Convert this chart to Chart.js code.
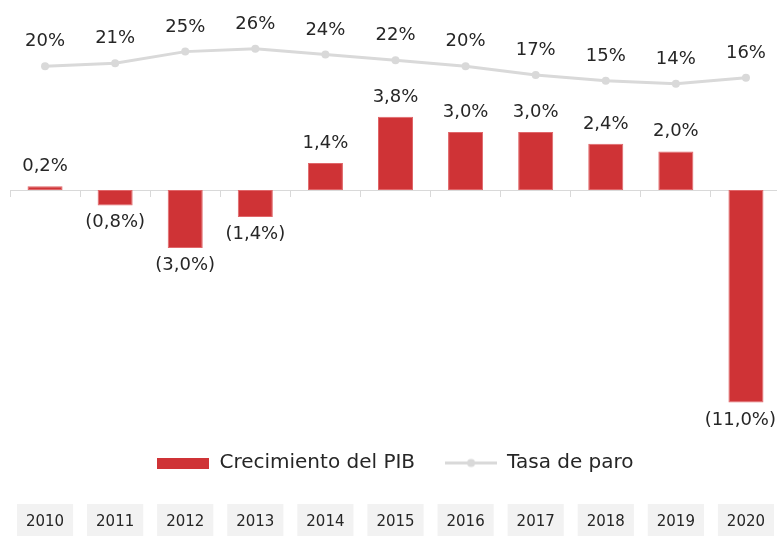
<!DOCTYPE html>
<html>
<head>
<meta charset="utf-8">
<script src="https://cdn.jsdelivr.net/npm/chart.js@4"></script>
<style>
  html, body { margin: 0; padding: 0; background: #fff; overflow: hidden; }
  #chart_pib { display: block; }
</style>
</head>
<body>
<canvas id="chart_pib" width="781" height="536"></canvas>
<script>
const years = ["2010", "2011", "2012", "2013", "2014", "2015", "2016", "2017", "2018", "2019", "2020"];
const gdpGrowth = [0.2, -0.8, -3.0, -1.4, 1.4, 3.8, 3.0, 3.0, 2.4, 2.0, -11.0];
const unemployment = [20, 21, 25, 26, 24, 22, 20, 17, 15, 14, 16];

const RED = "#cf3336";
const GREY = "#d9d9d9";
const FONT = '"DejaVu Sans"';

function fmtPct(v) {
  const s = Math.abs(v).toFixed(1).replace(".", ",") + "%";
  return v < 0 ? "(" + s + ")" : s;
}

// legend swatches
function swatch(kind) {
  const c = document.createElement("canvas");
  c.width = 52;
  c.height = 11;
  const g = c.getContext("2d");
  if (kind === "bar") {
    g.fillStyle = RED;
    g.fillRect(0, 0, 52, 11);
  } else {
    g.strokeStyle = GREY;
    g.lineWidth = 3;
    g.beginPath();
    g.moveTo(0, 5.5);
    g.lineTo(52, 5.5);
    g.stroke();
    g.fillStyle = GREY;
    g.beginPath();
    g.arc(26, 5.5, 4, 0, Math.PI * 2);
    g.fill();
  }
  return c;
}
const swatches = [swatch("bar"), swatch("line")];

// keep a label inside the visible window
function fitX(ctx, text, x) {
  const half = ctx.measureText(text).width / 2;
  return Math.min(x, window.innerWidth - half - 1);
}

const valueLabels = {
  id: "valueLabels",
  afterDatasetsDraw(chart) {
    const ctx = chart.ctx;
    ctx.save();
    ctx.font = "18px " + FONT;
    ctx.fillStyle = "#262626";
    ctx.textAlign = "center";
    ctx.textBaseline = "alphabetic";
    chart.getDatasetMeta(0).data.forEach(function (bar, i) {
      const v = gdpGrowth[i];
      const t = fmtPct(v);
      if (v >= 0) {
        ctx.fillText(t, fitX(ctx, t, bar.x), bar.y - 15);
      } else {
        ctx.fillText(t, fitX(ctx, t, bar.x), bar.y + 22);
      }
    });
    chart.getDatasetMeta(1).data.forEach(function (pt, i) {
      const t = unemployment[i] + "%";
      ctx.fillText(t, fitX(ctx, t, pt.x), pt.y - 20);
    });
    ctx.restore();
  }
};

const chart_pib = document.getElementById("chart_pib");

new Chart(chart_pib, {
  type: "bar",
  data: {
    labels: years,
    datasets: [
      {
        label: "Crecimiento del PIB",
        data: gdpGrowth,
        backgroundColor: RED,
        borderColor: "#e0676a",
        borderWidth: 1,
        borderSkipped: false,
        categoryPercentage: 0.5,
        barPercentage: 1,
        xAxisID: "x",
        yAxisID: "y",
        order: 2,
      },
      {
        type: "line",
        label: "Tasa de paro",
        data: unemployment,
        borderColor: GREY,
        backgroundColor: GREY,
        borderWidth: 3,
        pointRadius: 4,
        pointBorderWidth: 0,
        pointBackgroundColor: GREY,
        tension: 0,
        fill: false,
        xAxisID: "x",
        yAxisID: "y2",
        order: 1,
      },
    ],
  },
  options: {
    responsive: false,
    animation: false,
    layout: {
      autoPadding: false,
      padding: { left: 10, right: 0, top: 10, bottom: -4 },
    },
    plugins: {
      tooltip: { enabled: false },
      legend: {
        position: "bottom",
        fullSize: false,
        labels: {
          usePointStyle: true,
          pointStyleWidth: 52,
          boxHeight: 11,
          padding: 30,
          color: "#262626",
          font: { family: FONT, size: 20 },
          generateLabels: function (chart) {
            return chart.data.datasets.map(function (ds, i) {
              return {
                text: ds.label,
                datasetIndex: i,
                pointStyle: swatches[i],
                fillStyle: "transparent",
                strokeStyle: "transparent",
                lineWidth: 0,
                fontColor: "#262626",
                hidden: false,
              };
            });
          },
        },
      },
    },
    scales: {
      x: {
        type: "category",
        position: "bottom",
        weight: 2000,
        offset: true,
        grid: { display: false, drawTicks: false },
        border: { display: false },
        ticks: {
          color: "#262626",
          font: { family: FONT, size: 15 },
          padding: 9,
          maxRotation: 0,
          autoSkip: false,
          showLabelBackdrop: true,
          backdropColor: "#f2f2f2",
          backdropPadding: { left: 9, right: 9, top: 14, bottom: 14 },
        },
      },
      // empty gap between legend and year boxes
      spacer: {
        type: "category",
        position: "bottom",
        weight: 1500,
        grid: { display: false, drawTicks: false },
        border: { display: false },
        ticks: { display: false },
        afterFit: function (scale) {
          scale.height = 21;
        },
      },
      x2: {
        type: "category",
        position: { y: 0 },
        offset: true,
        grid: {
          offset: true,
          drawOnChartArea: false,
          drawTicks: true,
          tickLength: 6,
          color: GREY,
        },
        border: { display: true, color: GREY, width: 1 },
        ticks: { display: false },
      },
      y: {
        display: false,
        min: -12.06,
        max: 9.32,
      },
      y2: {
        display: false,
        min: -102.6,
        max: 39.3,
      },
    },
  },
  plugins: [valueLabels],
});
</script>
</body>
</html>
